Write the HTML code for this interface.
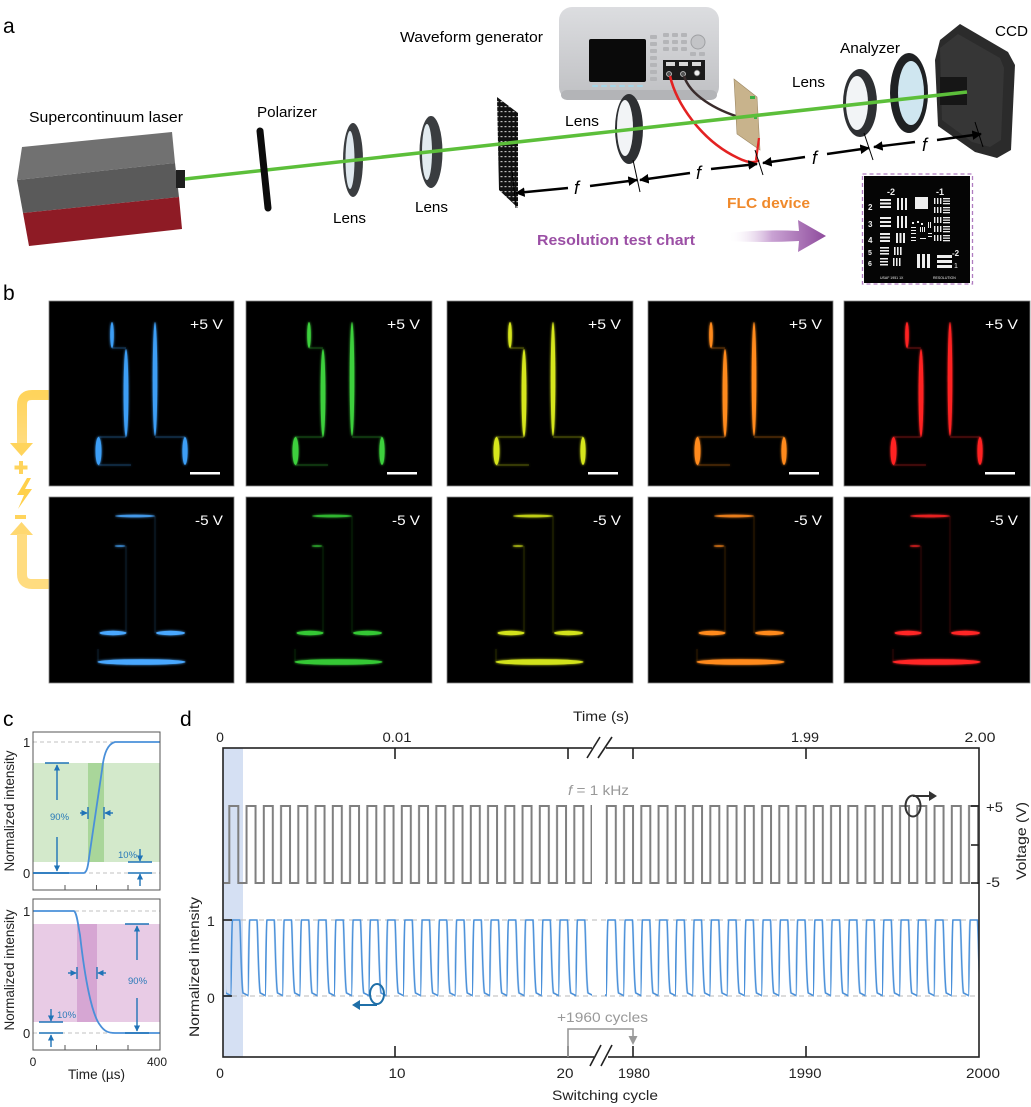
<!DOCTYPE html>
<html><head><meta charset="utf-8">
<style>
html,body{margin:0;padding:0;background:#fff;}
svg{display:block;}
text{font-family:"Liberation Sans",Arial,sans-serif;}
</style></head><body>
<svg width="1031" height="1107" viewBox="0 0 1031 1107" xmlns="http://www.w3.org/2000/svg">
<defs>
 <filter id="glow" x="-60%" y="-20%" width="220%" height="140%">
  <feGaussianBlur stdDeviation="1.3" result="b"/>
  <feMerge><feMergeNode in="b"/><feMergeNode in="SourceGraphic"/></feMerge>
 </filter>
 <marker id="ah" viewBox="0 0 10 10" refX="9" refY="5" markerWidth="4" markerHeight="4" orient="auto-start-reverse"><path d="M0,0 L10,5 L0,10 z" fill="#000"/></marker>
 <marker id="bh" viewBox="0 0 10 10" refX="9" refY="5" markerWidth="4.5" markerHeight="4.5" orient="auto-start-reverse"><path d="M0,0 L10,5 L0,10 z" fill="#1f73b7"/></marker>
 <linearGradient id="parrow" gradientUnits="userSpaceOnUse" x1="728" y1="0" x2="826" y2="0">
  <stop offset="0" stop-color="#ffffff" stop-opacity="0"/>
  <stop offset="0.45" stop-color="#c9a2d3"/>
  <stop offset="1" stop-color="#8e4b9c"/>
 </linearGradient>
 <linearGradient id="wg" x1="0" y1="0" x2="0" y2="1">
  <stop offset="0" stop-color="#dcdde0"/><stop offset="1" stop-color="#bfc0c3"/>
 </linearGradient>
 <linearGradient id="yel" x1="0" y1="0" x2="0" y2="1">
  <stop offset="0" stop-color="#ffd45c"/><stop offset="1" stop-color="#ffdc80"/>
 </linearGradient>
 <pattern id="chartpat" patternUnits="userSpaceOnUse" x="0" y="0" width="4" height="5">
  <rect width="4" height="5" fill="#111"/>
  <rect x="0.5" y="1" width="2" height="1.2" fill="#bbb"/>
 </pattern>
 <pattern id="gwL" patternUnits="userSpaceOnUse" x="223" y="0" width="17.25" height="1107">
  <path d="M-1,883 H6.3 V806 H15.3 V883 H18.5" fill="none" stroke="#7f7f7f" stroke-width="2"/>
 </pattern>
 <pattern id="gwR" patternUnits="userSpaceOnUse" x="600.5" y="0" width="17.25" height="1107">
  <path d="M-1,883 H6.3 V806 H15.3 V883 H18.5" fill="none" stroke="#7f7f7f" stroke-width="2"/>
 </pattern>
 <pattern id="bwL" patternUnits="userSpaceOnUse" x="230.5" y="0" width="17.25" height="1107">
  <path d="M-1,996 H0 C0.8,995 1,922 2,920 L9.2,920 C10,924 10.6,984 12.5,993 L18.5,996" fill="none" stroke="#4a90d9" stroke-width="1.6"/>
 </pattern>
 <pattern id="bwR" patternUnits="userSpaceOnUse" x="606" y="0" width="17.25" height="1107">
  <path d="M-1,996 H0 C0.8,995 1,922 2,920 L9.2,920 C10,924 10.6,984 12.5,993 L18.5,996" fill="none" stroke="#4a90d9" stroke-width="1.6"/>
 </pattern>
 <g id="p5">
  <g fill="currentColor">
   <ellipse cx="63" cy="34" rx="1.8" ry="13"/>
   <ellipse cx="77" cy="92" rx="2.4" ry="44"/>
   <ellipse cx="106" cy="78" rx="2.3" ry="57"/>
   <ellipse cx="49.5" cy="150" rx="3" ry="14"/>
   <ellipse cx="136" cy="150" rx="2.6" ry="14"/>
  </g>
  <path d="M63,47 H77 M49,136 H77 M106,136 H136 M49,164 H82" stroke="currentColor" stroke-width="1" opacity="0.35" fill="none"/>
 </g>
 <g id="m5">
  <g fill="currentColor">
   <ellipse cx="86" cy="19" rx="20" ry="1.4" opacity="0.8"/>
   <ellipse cx="71" cy="49" rx="5.5" ry="1" opacity="0.6"/>
   <ellipse cx="64" cy="136" rx="13.5" ry="2.2"/>
   <ellipse cx="121.5" cy="136" rx="14.5" ry="2.2"/>
   <ellipse cx="92.5" cy="165" rx="44" ry="2.8"/>
  </g>
  <path d="M77,49 V136 M106,19 V136 M49,152 V165" stroke="currentColor" stroke-width="1" opacity="0.15" fill="none"/>
 </g>
</defs>

<rect width="1031" height="1107" fill="#fff"/>

<!-- ================= PANEL A ================= -->
<text x="3" y="33" font-size="21">a</text>

<polygon points="22,147 172,132 175,163 17,180" fill="#717171"/>
<polygon points="17,180 175,163 179,197 23,213" fill="#5a5a5a"/>
<polygon points="23,213 179,197 182,229 29,246" fill="#8e1b25"/>
<rect x="176" y="170" width="9" height="18" fill="#1f1f1f"/>
<text x="29" y="122" font-size="15" textLength="154" lengthAdjust="spacingAndGlyphs">Supercontinuum laser</text>

<rect x="559" y="7" width="160" height="93" rx="13" fill="url(#wg)"/>
<rect x="561" y="90" width="156" height="10" rx="6" fill="#b3b4b7"/>
<rect x="589" y="39" width="57" height="43" rx="2" fill="#0a0a0a"/>
<g fill="#b4b5b8">
 <rect x="650" y="35" width="7" height="4" rx="1"/><rect x="650" y="42" width="7" height="4" rx="1"/>
 <rect x="650" y="49" width="7" height="4" rx="1"/><rect x="650" y="56" width="7" height="4" rx="1"/>
 <rect x="650" y="63" width="7" height="4" rx="1"/><rect x="650" y="70" width="7" height="4" rx="1"/>
 <rect x="650" y="77" width="7" height="4" rx="1"/>
 <rect x="663" y="33" width="6" height="4" rx="1"/><rect x="672" y="33" width="6" height="4" rx="1"/><rect x="681" y="33" width="6" height="4" rx="1"/>
 <rect x="663" y="40" width="6" height="4" rx="1"/><rect x="672" y="40" width="6" height="4" rx="1"/><rect x="681" y="40" width="6" height="4" rx="1"/>
 <rect x="663" y="47" width="6" height="4" rx="1"/><rect x="672" y="47" width="6" height="4" rx="1"/><rect x="681" y="47" width="6" height="4" rx="1"/>
 <rect x="690" y="52" width="6" height="4" rx="1"/><rect x="699" y="52" width="6" height="4" rx="1"/>
</g>
<circle cx="698" cy="42" r="7" fill="#c3c4c7" stroke="#9fa0a3" stroke-width="1"/>
<rect x="663" y="60" width="42" height="20" fill="#1b1b1b"/>
<rect x="666" y="62" width="9" height="4" fill="#d8d8d8"/><rect x="679" y="62" width="9" height="4" fill="#d8d8d8"/><rect x="692" y="62" width="9" height="4" fill="#d8d8d8"/>
<circle cx="669" cy="74" r="2.5" fill="#555" stroke="#ccc" stroke-width="0.8"/>
<circle cx="683" cy="74" r="2.5" fill="#555" stroke="#ccc" stroke-width="0.8"/>
<circle cx="697" cy="73" r="2.8" fill="#eee" stroke="#777" stroke-width="0.8"/>
<g fill="#a4d6e8">
 <rect x="592" y="85" width="6" height="2" rx="1"/><rect x="601" y="85" width="6" height="2" rx="1"/>
 <rect x="610" y="85" width="6" height="2" rx="1"/><rect x="619" y="85" width="6" height="2" rx="1"/>
 <rect x="628" y="85" width="6" height="2" rx="1"/><rect x="637" y="85" width="6" height="2" rx="1"/>
</g>
<text x="400" y="42" font-size="15" textLength="143" lengthAdjust="spacingAndGlyphs">Waveform generator</text>

<path d="M684,76 C690,95 715,110 742,118" fill="none" stroke="#3a2c2c" stroke-width="2.5"/>
<path d="M670,76 C676,102 700,140 738,158 C748,163 755,163 759,160" fill="none" stroke="#e32222" stroke-width="2.6"/>

<polygon points="497,97 518,113 518,208 499,190" fill="url(#chartpat)"/>

<polygon points="734,79 757,97 760,150 737,134" fill="#c8b38c" stroke="#9c8762" stroke-width="0.6"/>
<rect x="750" y="96" width="5" height="3" fill="#3cb043"/>
<rect x="754" y="114" width="3" height="5" fill="#3cb043"/>
<path d="M759,138 L756,160" stroke="#e32222" stroke-width="2.2"/>

<ellipse cx="353" cy="160" rx="10" ry="37" fill="#3a3d40"/>
<ellipse cx="350" cy="160" rx="4.5" ry="29" fill="#dfe8ee"/>
<ellipse cx="431" cy="152" rx="11.5" ry="36" fill="#3a3d40"/>
<ellipse cx="427" cy="152" rx="5" ry="28" fill="#e2ebf0"/>
<ellipse cx="629" cy="129" rx="14" ry="35" fill="#2e3033"/>
<ellipse cx="625" cy="128" rx="8" ry="28" fill="#f2f4f6"/>
<ellipse cx="860" cy="103" rx="17" ry="34" fill="#2e3033"/>
<ellipse cx="857" cy="103" rx="11" ry="27" fill="#f2f4f6"/>
<ellipse cx="909" cy="93" rx="19" ry="40" fill="#1f2123"/>
<ellipse cx="911" cy="93" rx="13" ry="32" fill="#cfe6f0"/>

<polygon points="940,40 960,24 1008,52 1015,65 1011,150 997,158 975,152 938,126 935,60" fill="#2b2b2b"/>
<polygon points="940,48 958,34 1000,58 1004,68 1001,140 990,147 972,142 942,120" fill="#363636"/>
<rect x="940" y="77" width="27" height="28" fill="#161616"/>

<line x1="185" y1="179" x2="967" y2="92" stroke="#5cbf3a" stroke-width="3.5"/>

<line x1="260" y1="131" x2="268" y2="208" stroke="#0c0c0c" stroke-width="7" stroke-linecap="round"/>

<text x="257" y="117" font-size="15" textLength="60" lengthAdjust="spacingAndGlyphs">Polarizer</text>
<text x="333" y="223" font-size="15" textLength="33" lengthAdjust="spacingAndGlyphs">Lens</text>
<text x="415" y="212" font-size="15" textLength="33" lengthAdjust="spacingAndGlyphs">Lens</text>
<text x="565" y="126" font-size="15" textLength="34" lengthAdjust="spacingAndGlyphs">Lens</text>
<text x="792" y="87" font-size="15" textLength="33" lengthAdjust="spacingAndGlyphs">Lens</text>
<text x="840" y="53" font-size="15" textLength="60" lengthAdjust="spacingAndGlyphs">Analyzer</text>
<text x="995" y="36" font-size="15" textLength="33" lengthAdjust="spacingAndGlyphs">CCD</text>

<g stroke="#000" stroke-width="1">
 <line x1="512" y1="170" x2="516" y2="208"/>
 <line x1="633" y1="160" x2="640" y2="192"/>
 <line x1="755" y1="150" x2="763" y2="175"/>
 <line x1="864" y1="133" x2="873" y2="160"/>
 <line x1="975" y1="122" x2="983" y2="147"/>
</g>
<g stroke="#000" stroke-width="2.4" fill="none">
 <line x1="516" y1="193" x2="568" y2="188" marker-start="url(#ah)"/>
 <line x1="590" y1="186" x2="637" y2="180" marker-end="url(#ah)"/>
 <line x1="640" y1="180" x2="690" y2="173" marker-start="url(#ah)"/>
 <line x1="711" y1="169" x2="757" y2="164" marker-end="url(#ah)"/>
 <line x1="763" y1="163" x2="805" y2="157" marker-start="url(#ah)"/>
 <line x1="827" y1="154" x2="869" y2="148" marker-end="url(#ah)"/>
 <line x1="874" y1="147" x2="915" y2="142" marker-start="url(#ah)"/>
 <line x1="937" y1="140" x2="981" y2="134" marker-end="url(#ah)"/>
</g>
<g font-size="18" font-style="italic">
 <text x="574" y="194">f</text>
 <text x="696" y="179">f</text>
 <text x="812" y="164">f</text>
 <text x="922" y="151">f</text>
</g>

<text x="727" y="208" font-size="15" font-weight="bold" fill="#f0892a" textLength="83" lengthAdjust="spacingAndGlyphs">FLC device</text>
<text x="537" y="245" font-size="15" font-weight="bold" fill="#9b4fa5" textLength="158" lengthAdjust="spacingAndGlyphs">Resolution test chart</text>

<path d="M728,233 Q765,229 799,231 L798,220 L826,236 L798,252 L799,241 Q765,243 728,241 Z" fill="url(#parrow)"/>

<rect x="862.5" y="174" width="110" height="110" fill="none" stroke="#b07cc0" stroke-width="1.3" stroke-dasharray="4,3"/>
<rect x="864" y="176" width="106" height="107" fill="#050505"/>
<g fill="#eee">
 <rect x="880" y="199" width="11" height="2"/><rect x="880" y="202.5" width="11" height="2"/><rect x="880" y="206" width="11" height="2"/>
 <rect x="897" y="198" width="2" height="12"/><rect x="901" y="198" width="2" height="12"/><rect x="905" y="198" width="2" height="12"/>
 <rect x="880" y="217" width="11" height="2"/><rect x="880" y="221" width="11" height="2"/><rect x="880" y="225" width="11" height="2"/>
 <rect x="897" y="216" width="2" height="12"/><rect x="901" y="216" width="2" height="12"/><rect x="905" y="216" width="2" height="12"/>
 <rect x="880" y="233" width="10" height="2"/><rect x="880" y="236.5" width="10" height="2"/><rect x="880" y="240" width="10" height="2"/>
 <rect x="896" y="233" width="2" height="10"/><rect x="899.5" y="233" width="2" height="10"/><rect x="903" y="233" width="2" height="10"/>
 <rect x="880" y="247" width="9" height="1.6"/><rect x="880" y="250" width="9" height="1.6"/><rect x="880" y="253" width="9" height="1.6"/>
 <rect x="894" y="247" width="1.6" height="8"/><rect x="897" y="247" width="1.6" height="8"/><rect x="900" y="247" width="1.6" height="8"/>
 <rect x="880" y="258" width="8" height="1.5"/><rect x="880" y="261" width="8" height="1.5"/><rect x="880" y="264" width="8" height="1.5"/>
 <rect x="893" y="258" width="1.5" height="8"/><rect x="896" y="258" width="1.5" height="8"/><rect x="899" y="258" width="1.5" height="8"/>
 <rect x="915" y="197" width="13" height="12"/>
 <rect x="917" y="254" width="3" height="14"/><rect x="922" y="254" width="3" height="14"/><rect x="927" y="254" width="3" height="14"/>
 <rect x="937" y="255" width="15" height="3"/><rect x="937" y="260" width="15" height="3"/><rect x="937" y="265" width="15" height="3"/>
 <g id="rc">
  <rect x="934" y="198" width="1.4" height="6"/><rect x="937" y="198" width="1.4" height="6"/><rect x="940" y="198" width="1.4" height="6"/>
  <rect x="943" y="198" width="7" height="1.3"/><rect x="943" y="200.5" width="7" height="1.3"/><rect x="943" y="203" width="7" height="1.3"/>
 </g>
 <use href="#rc" y="9"/><use href="#rc" y="19"/><use href="#rc" y="28"/><use href="#rc" y="37"/>
 <rect x="912" y="222" width="2" height="2"/><rect x="917" y="221" width="2" height="2"/><rect x="921" y="223" width="2" height="2"/>
 <rect x="911" y="227" width="5" height="1"/><rect x="911" y="230" width="5" height="1"/><rect x="911" y="233" width="5" height="1"/>
 <rect x="920" y="227" width="1" height="5"/><rect x="922" y="227" width="1" height="5"/><rect x="924" y="227" width="1" height="5"/>
 <rect x="928" y="222" width="1" height="6"/><rect x="930" y="222" width="1" height="6"/>
 <rect x="911" y="237" width="5" height="1"/><rect x="911" y="240" width="5" height="1"/>
 <rect x="920" y="238" width="6" height="1"/><rect x="928" y="233" width="4" height="1"/><rect x="928" y="236" width="4" height="1"/>
</g>
<g fill="#eee" font-weight="bold" font-size="9">
 <text x="887" y="195">-2</text><text x="936" y="195">-1</text>
 <text x="868" y="210" font-size="8">2</text><text x="868" y="227" font-size="8">3</text>
 <text x="868" y="243" font-size="8">4</text><text x="868" y="255" font-size="7">5</text>
 <text x="868" y="266" font-size="7">6</text>
 <text x="952" y="256" font-size="8">-2</text><text x="954" y="268" font-size="7" font-weight="normal">1</text>
 <text x="880" y="279" font-size="3.5" font-weight="normal">USAF 1951 1X</text>
 <text x="933" y="279" font-size="3.5" font-weight="normal">RESOLUTION</text>
</g>

<!-- ================= PANEL B ================= -->
<text x="3" y="300" font-size="21">b</text>

<path d="M49,395 H32 Q22,395 22,405 V444" fill="none" stroke="url(#yel)" stroke-width="10"/>
<polygon points="10,443 33,443 21.5,456" fill="#ffd45c"/>
<path d="M21,461 V474 M14.5,467.5 H27.5" stroke="#ffd45c" stroke-width="4"/>
<polygon points="27,478 17,495 24,495 18,509 32,489 25,489 31,478" fill="#ffd04a"/>
<rect x="15" y="515" width="11" height="4" fill="#ffd45c"/>
<polygon points="21.5,522 10,535 33,535" fill="#ffd870"/>
<path d="M22,534 V574 Q22,584 32,584 H49" fill="none" stroke="#ffdc80" stroke-width="10"/>

<g stroke="#888" stroke-width="0.8">
 <rect x="49" y="301" width="185" height="185" fill="#000"/>
 <rect x="246" y="301" width="186" height="185" fill="#000"/>
 <rect x="447" y="301" width="186" height="185" fill="#000"/>
 <rect x="648" y="301" width="185" height="185" fill="#000"/>
 <rect x="844" y="301" width="186" height="185" fill="#000"/>
 <rect x="49" y="497" width="185" height="186" fill="#000"/>
 <rect x="246" y="497" width="186" height="186" fill="#000"/>
 <rect x="447" y="497" width="186" height="186" fill="#000"/>
 <rect x="648" y="497" width="185" height="186" fill="#000"/>
 <rect x="844" y="497" width="186" height="186" fill="#000"/>
</g>
<use href="#p5" x="49" y="301" color="#3c9ef5" filter="url(#glow)"/>
<use href="#p5" x="246" y="301" color="#3cd03c" filter="url(#glow)"/>
<use href="#p5" x="447" y="301" color="#d6e61e" filter="url(#glow)"/>
<use href="#p5" x="648" y="301" color="#ff8a1e" filter="url(#glow)"/>
<use href="#p5" x="844" y="301" color="#ff2424" filter="url(#glow)"/>
<use href="#m5" x="49" y="497" color="#4aa8ff" filter="url(#glow)"/>
<use href="#m5" x="246" y="497" color="#36c836" filter="url(#glow)"/>
<use href="#m5" x="447" y="497" color="#d2e21a" filter="url(#glow)"/>
<use href="#m5" x="648" y="497" color="#ff8a1e" filter="url(#glow)"/>
<use href="#m5" x="844" y="497" color="#ff2626" filter="url(#glow)"/>
<g fill="#fff">
 <rect x="190" y="472" width="30" height="2.5"/>
 <rect x="387" y="472" width="30" height="2.5"/>
 <rect x="588" y="472" width="30" height="2.5"/>
 <rect x="789" y="472" width="30" height="2.5"/>
 <rect x="985" y="472" width="30" height="2.5"/>
</g>
<g fill="#fff" font-size="14">
 <text x="190" y="329" textLength="33" lengthAdjust="spacingAndGlyphs">+5 V</text>
 <text x="387" y="329" textLength="33" lengthAdjust="spacingAndGlyphs">+5 V</text>
 <text x="588" y="329" textLength="33" lengthAdjust="spacingAndGlyphs">+5 V</text>
 <text x="789" y="329" textLength="33" lengthAdjust="spacingAndGlyphs">+5 V</text>
 <text x="985" y="329" textLength="33" lengthAdjust="spacingAndGlyphs">+5 V</text>
 <text x="195" y="525" textLength="28" lengthAdjust="spacingAndGlyphs">-5 V</text>
 <text x="392" y="525" textLength="28" lengthAdjust="spacingAndGlyphs">-5 V</text>
 <text x="593" y="525" textLength="28" lengthAdjust="spacingAndGlyphs">-5 V</text>
 <text x="794" y="525" textLength="28" lengthAdjust="spacingAndGlyphs">-5 V</text>
 <text x="990" y="525" textLength="28" lengthAdjust="spacingAndGlyphs">-5 V</text>
</g>

<!-- ================= PANEL C ================= -->
<text x="3" y="726" font-size="21">c</text>
<rect x="33" y="763" width="127" height="99" fill="#d3e9cb"/>
<rect x="88" y="763" width="16" height="99" fill="#a9d69a"/>
<g stroke="#c0c0c0" stroke-width="1" stroke-dasharray="4,3">
 <line x1="33" y1="742" x2="160" y2="742"/><line x1="33" y1="873" x2="160" y2="873"/>
 <line x1="33" y1="911" x2="160" y2="911"/><line x1="33" y1="1033" x2="160" y2="1033"/>
</g>
<path d="M33,873 L84,873 C87,872 88,866 89,858 L102,770 C104,752 108,744 115,742 L160,742" fill="none" stroke="#4a90d9" stroke-width="1.8"/>
<rect x="33" y="732" width="127" height="158" fill="none" stroke="#555" stroke-width="1"/>
<g stroke="#555" stroke-width="1"><line x1="65" y1="890" x2="65" y2="885"/><line x1="96.5" y1="890" x2="96.5" y2="885"/><line x1="128" y1="890" x2="128" y2="885"/></g>
<g stroke="#1f73b7" stroke-width="1.4" fill="none">
 <line x1="45" y1="763" x2="69" y2="763"/>
 <line x1="33" y1="873" x2="69" y2="873"/>
 <line x1="57" y1="800" x2="57" y2="765" marker-end="url(#bh)"/>
 <line x1="57" y1="837" x2="57" y2="871" marker-end="url(#bh)"/>
 <line x1="80" y1="813" x2="87" y2="813" marker-end="url(#bh)"/>
 <line x1="113" y1="813" x2="105" y2="813" marker-end="url(#bh)"/>
 <line x1="88" y1="807" x2="88" y2="819"/><line x1="104" y1="807" x2="104" y2="819"/>
 <line x1="128" y1="862" x2="152" y2="862"/><line x1="128" y1="873" x2="152" y2="873"/>
 <line x1="140" y1="849" x2="140" y2="861" marker-end="url(#bh)"/>
 <line x1="140" y1="886" x2="140" y2="874" marker-end="url(#bh)"/>
</g>
<g fill="#2a7ab8" font-size="9.5">
 <text x="50" y="820">90%</text>
 <text x="118" y="858">10%</text>
</g>
<rect x="33" y="924" width="127" height="98" fill="#e8cbe5"/>
<rect x="77" y="924" width="20" height="98" fill="#d6a6d3"/>
<g stroke="#c0c0c0" stroke-width="1" stroke-dasharray="4,3">
 <line x1="33" y1="911" x2="160" y2="911"/><line x1="33" y1="1033" x2="160" y2="1033"/>
</g>
<path d="M33,911 L74,911 C77,913 78,925 80,935 C85,980 92,1015 100,1025 C104,1031 108,1033 115,1033 L160,1033" fill="none" stroke="#4a90d9" stroke-width="1.8"/>
<rect x="33" y="899" width="127" height="151" fill="none" stroke="#555" stroke-width="1"/>
<g stroke="#555" stroke-width="1"><line x1="65" y1="1050" x2="65" y2="1045"/><line x1="96.5" y1="1050" x2="96.5" y2="1045"/><line x1="128" y1="1050" x2="128" y2="1045"/></g>
<g stroke="#1f73b7" stroke-width="1.4" fill="none">
 <line x1="125" y1="924" x2="149" y2="924"/>
 <line x1="125" y1="1033" x2="149" y2="1033"/>
 <line x1="137" y1="960" x2="137" y2="926" marker-end="url(#bh)"/>
 <line x1="137" y1="998" x2="137" y2="1031" marker-end="url(#bh)"/>
 <line x1="68" y1="973" x2="76" y2="973" marker-end="url(#bh)"/>
 <line x1="106" y1="973" x2="98" y2="973" marker-end="url(#bh)"/>
 <line x1="77" y1="967" x2="77" y2="979"/><line x1="97" y1="967" x2="97" y2="979"/>
 <line x1="39" y1="1022" x2="63" y2="1022"/><line x1="39" y1="1033" x2="63" y2="1033"/>
 <line x1="51" y1="1009" x2="51" y2="1021" marker-end="url(#bh)"/>
 <line x1="51" y1="1047" x2="51" y2="1035" marker-end="url(#bh)"/>
</g>
<g fill="#2a7ab8" font-size="9.5">
 <text x="128" y="984">90%</text>
 <text x="57" y="1018">10%</text>
</g>
<g font-size="13" fill="#222">
 <text x="23" y="747">1</text><text x="23" y="878">0</text>
 <text x="23" y="916">1</text><text x="23" y="1038">0</text>
 <text x="33" y="1066" text-anchor="middle" font-size="12">0</text>
 <text x="157" y="1066" text-anchor="middle" font-size="12">400</text>
 <text x="68" y="1079" font-size="14" textLength="57" lengthAdjust="spacingAndGlyphs">Time (µs)</text>
 <text transform="translate(14,811) rotate(-90)" text-anchor="middle" font-size="14" textLength="121" lengthAdjust="spacingAndGlyphs">Normalized intensity</text>
 <text transform="translate(14,970) rotate(-90)" text-anchor="middle" font-size="14" textLength="121" lengthAdjust="spacingAndGlyphs">Normalized intensity</text>
</g>

<!-- ================= PANEL D ================= -->
<text x="180" y="726" font-size="21">d</text>
<rect x="223" y="748" width="20" height="309" fill="#d5e0f3"/>
<g stroke="#b8b8b8" stroke-width="1" stroke-dasharray="5,4">
 <line x1="223" y1="920" x2="979" y2="920"/>
 <line x1="223" y1="996" x2="979" y2="996"/>
</g>
<rect x="226" y="790" width="366" height="110" fill="url(#gwL)"/>
<rect x="605" y="790" width="374" height="110" fill="url(#gwR)"/>
<rect x="226" y="905" width="366" height="100" fill="url(#bwL)"/>
<rect x="605" y="905" width="374" height="100" fill="url(#bwR)"/>
<line x1="224" y1="883" x2="229.3" y2="883" stroke="#7f7f7f" stroke-width="2"/>
<line x1="224" y1="996" x2="231" y2="996" stroke="#4a90d9" stroke-width="1.6"/>

<rect x="223" y="748" width="756" height="309" fill="none" stroke="#222" stroke-width="1.6"/>
<g stroke="#222" stroke-width="1.6">
 <line x1="395" y1="748" x2="395" y2="759"/><line x1="568" y1="748" x2="568" y2="759"/>
 <line x1="633" y1="748" x2="633" y2="759"/><line x1="806" y1="748" x2="806" y2="759"/>
 <line x1="395" y1="1057" x2="395" y2="1046"/><line x1="568" y1="1057" x2="568" y2="1046"/>
 <line x1="633" y1="1057" x2="633" y2="1046"/><line x1="806" y1="1057" x2="806" y2="1046"/>
 <line x1="223" y1="920" x2="232" y2="920"/><line x1="223" y1="996" x2="232" y2="996"/>
 <line x1="979" y1="806" x2="971" y2="806"/><line x1="979" y1="845" x2="971" y2="845"/><line x1="979" y1="883" x2="971" y2="883"/>
</g>
<rect x="592" y="745" width="14" height="6" fill="#fff"/>
<rect x="594" y="1054" width="14" height="6" fill="#fff"/>
<g stroke="#222" stroke-width="1.6">
 <line x1="587" y1="758" x2="600" y2="737"/><line x1="598" y1="758" x2="612" y2="737"/>
 <line x1="590" y1="1066" x2="601" y2="1045"/><line x1="601" y1="1066" x2="612" y2="1045"/>
</g>

<path d="M568,1057 V1029 H633 V1038" fill="none" stroke="#999" stroke-width="1.6"/>
<polygon points="628.5,1036 637.5,1036 633,1045" fill="#999"/>

<g fill="none" stroke="#1f6fa8" stroke-width="2">
 <ellipse cx="377" cy="994" rx="7" ry="10"/>
 <line x1="377" y1="1005" x2="358" y2="1005"/>
</g>
<polygon points="352,1005 360,1000 360,1010" fill="#1f6fa8"/>
<g fill="none" stroke="#333" stroke-width="2">
 <ellipse cx="913" cy="806" rx="7.5" ry="10.5"/>
 <line x1="913" y1="796" x2="930" y2="796"/>
</g>
<polygon points="937,796 929,791 929,801" fill="#333"/>

<g font-size="14" fill="#222">
 <text x="573" y="721" textLength="56" lengthAdjust="spacingAndGlyphs">Time (s)</text>
 <text x="220" y="742" text-anchor="middle">0</text>
 <text x="397" y="742" text-anchor="middle" textLength="29" lengthAdjust="spacingAndGlyphs">0.01</text>
 <text x="805" y="742" text-anchor="middle" textLength="28" lengthAdjust="spacingAndGlyphs">1.99</text>
 <text x="980" y="742" text-anchor="middle" textLength="31" lengthAdjust="spacingAndGlyphs">2.00</text>
 <text x="220" y="1078" text-anchor="middle">0</text>
 <text x="397" y="1078" text-anchor="middle" textLength="17" lengthAdjust="spacingAndGlyphs">10</text>
 <text x="565" y="1078" text-anchor="middle" textLength="17" lengthAdjust="spacingAndGlyphs">20</text>
 <text x="634" y="1078" text-anchor="middle" textLength="32" lengthAdjust="spacingAndGlyphs">1980</text>
 <text x="805" y="1078" text-anchor="middle" textLength="33" lengthAdjust="spacingAndGlyphs">1990</text>
 <text x="983" y="1078" text-anchor="middle" textLength="34" lengthAdjust="spacingAndGlyphs">2000</text>
 <text x="552" y="1100" textLength="106" lengthAdjust="spacingAndGlyphs">Switching cycle</text>
 <text x="207" y="926">1</text>
 <text x="207" y="1003">0</text>
 <text x="986" y="812" textLength="17" lengthAdjust="spacingAndGlyphs">+5</text>
 <text x="986" y="887" textLength="14" lengthAdjust="spacingAndGlyphs">-5</text>
 <text transform="translate(1026,841) rotate(-90)" text-anchor="middle" textLength="78" lengthAdjust="spacingAndGlyphs">Voltage (V)</text>
 <text transform="translate(199,967) rotate(-90)" text-anchor="middle" textLength="140" lengthAdjust="spacingAndGlyphs">Normalized intensity</text>
</g>
<g font-size="14" fill="#999">
 <text x="568" y="795" textLength="61" lengthAdjust="spacingAndGlyphs"><tspan font-style="italic">f</tspan> = 1 kHz</text>
 <text x="557" y="1022" textLength="91" lengthAdjust="spacingAndGlyphs">+1960 cycles</text>
</g>
</svg>
</body></html>
